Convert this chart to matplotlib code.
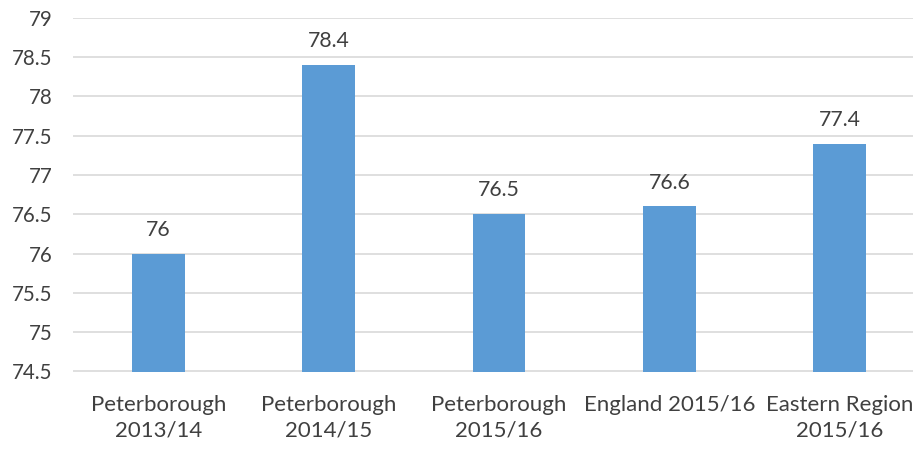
import matplotlib
matplotlib.use("Agg")
import matplotlib.pyplot as plt

categories = ["Peterborough\n2013/14", "Peterborough\n2014/15", "Peterborough\n2015/16",
              "England 2015/16", "Eastern Region\n2015/16"]
values = [76, 78.4, 76.5, 76.6, 77.4]
yticks = [74.5, 75, 75.5, 76, 76.5, 77, 77.5, 78, 78.5, 79]

text_color = "#404040"
bar_color = "#5B9BD5"
grid_color = "#D9D9D9"
plt.rcParams["font.family"] = ["Lato", "DejaVu Sans"]

fig = plt.figure(figsize=(9.13, 4.49), dpi=100)
ax = fig.add_axes([73 / 913, 77.5 / 449, 852 / 913, 353.7 / 449])

x = list(range(len(categories)))
ax.bar(x, values, width=0.31, color=bar_color, zorder=3)
for xi, v in zip(x, values):
    ax.annotate(f"{v:g}", (xi, v), xytext=(0, 10), textcoords="offset points",
                ha="center", va="bottom", fontsize=15.3, color=text_color)

ax.set_xlim(-0.5, len(categories) - 0.5)
ax.set_ylim(74.5, 79)
ax.set_yticks(yticks)
ax.set_yticklabels([f"{t:g}" for t in yticks])
ax.set_xticks(x)
ax.set_xticklabels(categories, linespacing=1.35)
ax.tick_params(axis="y", length=0, pad=15, labelsize=14.8, labelcolor=text_color)
ax.tick_params(axis="x", length=0, pad=17, labelsize=16, labelcolor=text_color)
ax.yaxis.grid(True, color=grid_color, linewidth=1.2, zorder=0)
for s in ax.spines.values():
    s.set_visible(False)

fig.savefig("out.png", dpi=100)
